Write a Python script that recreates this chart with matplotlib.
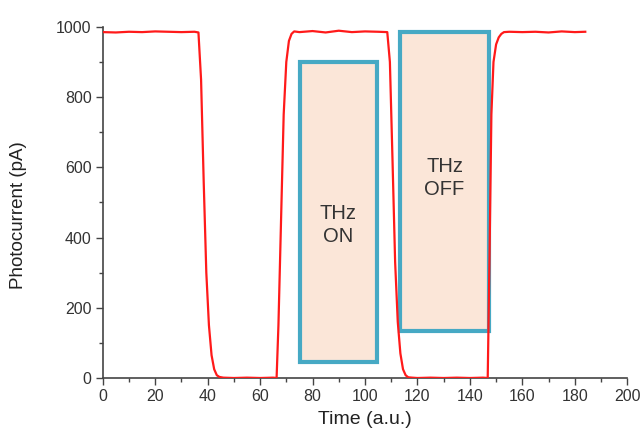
import numpy as np
import matplotlib.pyplot as plt
from matplotlib.patches import Rectangle

plt.rcParams['font.family'] = ['Liberation Sans', 'DejaVu Sans']

# photocurrent trace
time = [0, 5, 10, 15, 20, 25, 30, 35, 36.5, 37.5, 38.5, 39.5, 40.5, 41.5, 42.5, 43.5, 44.5, 46,
        50, 55, 60, 65, 66.3, 67, 68, 69, 70, 71, 72, 73, 75, 80, 85, 90, 95, 100, 105, 108.5,
        109.5, 110.5, 111.5, 112.5, 113.5, 114.5, 115.5, 116.5, 118, 120, 125, 130, 135, 140,
        145, 146.8, 147.5, 148.2, 149, 150, 151, 152, 153, 155, 160, 165, 170, 175, 180, 184]
current = [985, 984, 986, 985, 987, 986, 985, 986, 984, 850, 560, 300, 150, 65, 25, 8, 3, 1,
           0, 1, 0, 1, 0, 150, 450, 750, 900, 960, 980, 987, 985, 988, 984, 989, 985, 987, 986, 985,
           900, 620, 330, 160, 70, 25, 8, 2, 1, 0, 1, 0, 1, 0,
           1, 0, 350, 750, 900, 950, 970, 980, 985, 986, 985, 986, 984, 987, 985, 986]

# annotation boxes
box_x0 = [75.2, 113.4]
box_x1 = [104.6, 147.3]
box_y0 = [45, 134]
box_y1 = [900, 985]
box_labels = ['THz\nON', 'THz\nOFF']
label_y = [435, 570]

fig, ax = plt.subplots(figsize=(6.42, 4.33), dpi=100)
fig.subplots_adjust(left=0.160, right=0.977, bottom=0.127, top=0.938)

ax.plot(time, current, color='#ff1a1a', lw=1.6, zorder=3)

for x0, x1, y0, y1, lab, ly in zip(box_x0, box_x1, box_y0, box_y1, box_labels, label_y):
    ax.add_patch(Rectangle((x0, y0), x1 - x0, y1 - y0, facecolor='#fbe6d8',
                           edgecolor='#46a9c4', lw=3, zorder=2))
    ax.text((x0 + x1) / 2, ly, lab, ha='center', va='center', fontsize=14.5,
            color='#333333', linespacing=1.25, zorder=4)

ax.set_xlim(0, 200)
ax.set_ylim(0, 1000)
ax.set_xticks(np.arange(0, 201, 20))
ax.set_xticks(np.arange(0, 201, 10), minor=True)
ax.set_yticks(np.arange(0, 1001, 200))
ax.set_yticks(np.arange(0, 1001, 100), minor=True)

for s in ['top', 'right']:
    ax.spines[s].set_visible(False)
for s in ['left', 'bottom']:
    ax.spines[s].set_color('#444444')
    ax.spines[s].set_linewidth(1.2)
ax.tick_params(which='major', length=5, width=1, color='#444444', labelsize=11.5,
               labelcolor='#333333', pad=3)
ax.tick_params(which='minor', length=3, width=1, color='#444444')

ax.set_xlabel('Time (a.u.)', fontsize=14, color='#222222')
ax.set_ylabel('Photocurrent (pA)', fontsize=13.5, color='#222222')
ax.xaxis.set_label_coords(0.5, -0.095)
ax.yaxis.set_label_coords(-0.145, 0.465)

fig.savefig('out.png', dpi=100)
